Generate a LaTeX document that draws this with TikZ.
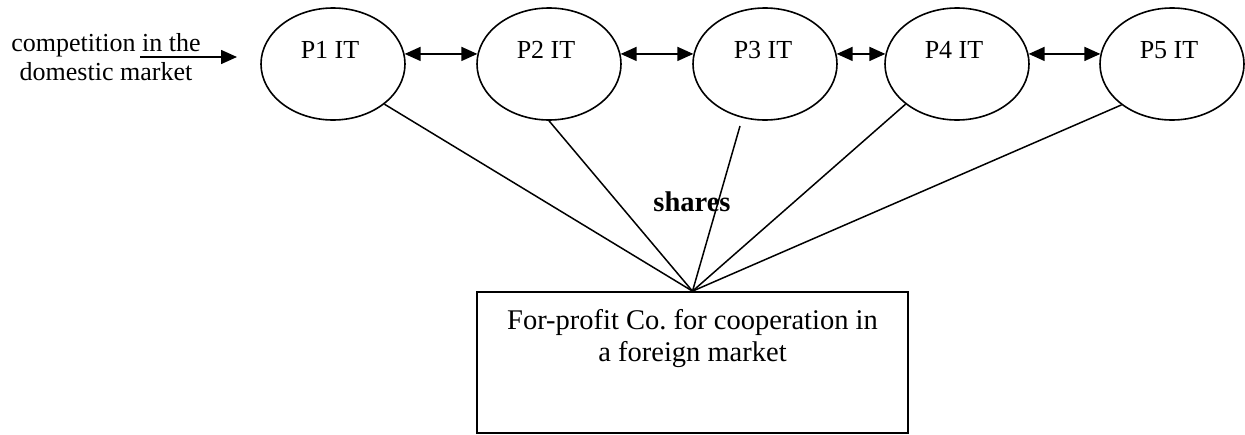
\documentclass[tikz,border=0pt]{standalone}
\usepackage{fontspec}
\setmainfont{Liberation Serif}
\usetikzlibrary{shapes.geometric,arrows.meta}
\frenchspacing
\begin{document}
\begin{tikzpicture}[x=1pt,y=-1pt,
  ell/.style={draw,ellipse,line width=1.6pt,minimum width=144pt,minimum height=112pt,inner sep=0pt},
  plabel/.style={font=\fontsize{26}{30}\selectfont,anchor=base,inner sep=0pt},
  conn/.style={line width=1.5pt},
  dbl/.style={line width=1.6pt,{Triangle[length=16pt,width=14pt]}-{Triangle[length=16pt,width=14pt]}},
  sgl/.style={line width=1.6pt,-{Triangle[length=16pt,width=14pt]}},
  boxst/.style={draw,line width=1.7pt,minimum width=431pt,minimum height=141pt,inner sep=0pt}
]
\useasboundingbox (0,0) rectangle (1245,434);
% ellipses
\node[ell] (p1) at (333,64) {};
\node[ell] (p2) at (549,64) {};
\node[ell] (p3) at (765,64) {};
\node[ell] (p4) at (957,64) {};
\node[ell] (p5) at (1172,64) {};
\node[plabel] (p1t) at (330,58) {P1 IT};
\node[plabel] (p2t) at (546,58) {P2 IT};
\node[plabel] (p3t) at (763,58) {P3 IT};
\node[plabel] (p4t) at (954,58) {P4 IT};
\node[plabel] (p5t) at (1169,58) {P5 IT};
% box
\node[boxst] (box) at (692.5,362.5) {};
\node[font=\fontsize{28.5}{32}\selectfont,align=center,inner sep=0pt] (boxt) at (692.5,339) {For-profit Co. for cooperation in\\a foreign market};
% left text
\node[font=\fontsize{26}{29.5}\selectfont,align=center,inner sep=0pt] (comp) at (106,57) {competition in the\\domestic market};
\coordinate (ca) at (140,57);
\coordinate (cb) at (237,57);
\draw[sgl] (ca) -- (cb);
% double arrows
\draw[dbl] (p1.8) -- (p2.172);
\draw[dbl] (p2.8) -- (p3.172);
\draw[dbl] (p3.8) -- (p4.172);
\draw[dbl] (p4.8) -- (p5.172);
% connectors
\coordinate (p3s) at (740,126);
\draw[conn] (p1.-38) -- (box.north);
\draw[conn] (p2.south) -- (box.north);
\draw[conn] (p3s) -- (box.north);
\draw[conn] (p4.218) -- (box.north);
\draw[conn] (p5.219) -- (box.north);
\node[font=\fontsize{28.5}{32}\selectfont\bfseries,anchor=base,inner sep=0pt] (sh) at (692,211) {shares};
\end{tikzpicture}
\end{document}
